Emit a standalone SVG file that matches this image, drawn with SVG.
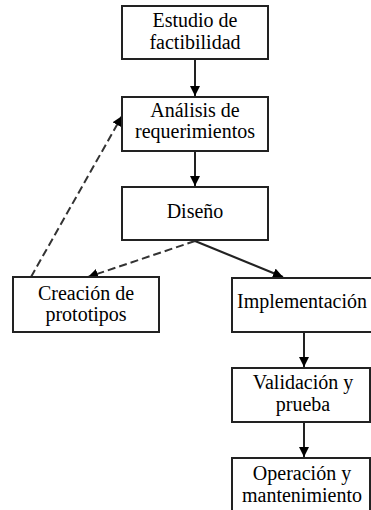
<svg xmlns="http://www.w3.org/2000/svg" width="371" height="510" viewBox="0 0 371 510">
<defs>
<marker id="ah" viewBox="0 0 10 10" refX="10" refY="5" markerWidth="10" markerHeight="10" markerUnits="userSpaceOnUse" orient="auto">
<path d="M0,0 L10,5 L0,10 Z" fill="#000"/>
</marker>
</defs>
<style>
.box{fill:#fff;stroke:#222;stroke-width:2}
.t{font-family:'Liberation Serif','Times New Roman',serif;font-size:20px;fill:#000;text-anchor:middle}
.c{fill:none;stroke:#222;stroke-width:2}
.d{stroke:#333;stroke-dasharray:8,4}
</style>
<rect width="371" height="510" fill="#fff"/>
<g id="connectors">
<line class="c" x1="195" y1="59" x2="195" y2="96" marker-end="url(#ah)"/>
<line class="c" x1="195" y1="151" x2="195" y2="186" marker-end="url(#ah)"/>
<line class="c d" x1="195" y1="241" x2="88" y2="277" marker-end="url(#ah)"/>
<line class="c" x1="195" y1="241" x2="283" y2="277" marker-end="url(#ah)"/>
<line class="c d" x1="31" y1="277" x2="122" y2="116" marker-end="url(#ah)"/>
<line class="c" x1="304" y1="332" x2="304" y2="367" marker-end="url(#ah)"/>
<line class="c" x1="304" y1="422" x2="304" y2="457" marker-end="url(#ah)"/>
</g>
<g id="n1"><rect class="box" x="122" y="6" width="146" height="53"/><text class="t" x="195" y="27">Estudio de</text><text class="t" x="195" y="49">factibilidad</text></g>
<g id="n2"><rect class="box" x="122" y="97" width="146" height="54"/><text class="t" x="195" y="117">Análisis de</text><text class="t" x="195" y="138">requerimientos</text></g>
<g id="n3"><rect class="box" x="122" y="187" width="146" height="53"/><text class="t" x="195" y="218">Diseño</text></g>
<g id="n4"><rect class="box" x="13" y="277" width="146" height="55"/><text class="t" x="86" y="300">Creación de</text><text class="t" x="86" y="321">prototipos</text></g>
<g id="n5"><rect class="box" x="232" y="278" width="142" height="54"/><text class="t" x="302" y="308">Implementación</text></g>
<g id="n6"><rect class="box" x="232" y="368" width="138" height="54"/><text class="t" x="303" y="389">Validación y</text><text class="t" x="303" y="411">prueba</text></g>
<g id="n7"><rect class="box" x="232" y="458" width="138" height="60"/><text class="t" x="302" y="480">Operación y</text><text class="t" x="302" y="502">mantenimiento</text></g>
</svg>
